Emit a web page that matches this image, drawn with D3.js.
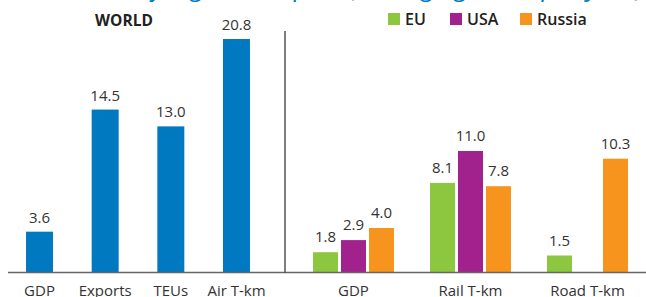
<!DOCTYPE html>
<html>
<head>
<meta charset="utf-8">
<script src="https://cdn.jsdelivr.net/npm/d3@7"></script>
<style>
  html, body { margin: 0; padding: 0; background: #fff; }
  svg { display: block; font-family: "Open Sans", sans-serif; }
  .val { font-size: 15px; fill: #333; text-anchor: middle; }
  .cat { font-size: 15px; fill: #333; text-anchor: middle; }
</style>
</head>
<body>
<div id="chart"></div>
<script>
// world growth (left panel)
const worldCats = ["GDP", "Exports", "TEUs", "Air T-km"];
const worldVals = [3.6, 14.5, 13.0, 20.8];

// regional growth (right panel)
const regionCats = ["GDP", "Rail T-km", "Road T-km"];
const regions = ["EU", "USA", "Russia"];
const euVals = [1.8, 8.1, 1.5];
const usaVals = [2.9, 11.0, null];
const russiaVals = [4.0, 7.8, 10.3];

const colors = ["#8dc63f", "#a2228d", "#f7941d"];
const blue = "#0079c1";

const W = 646, H = 297;
const base = 272;

const svg = d3.select("#chart").append("svg")
    .attr("width", W)
    .attr("height", H);

// title sits above the frame, only its descenders show
svg.append("text")
    .attr("x", 644)
    .attr("y", -4)
    .attr("text-anchor", "end")
    .attr("font-size", 26)
    .attr("font-style", "italic")
    .attr("fill", blue)
    .text("Annual growth of GDP, trade and freight transport (average growth per year)");

// ---- left panel
const x = d3.scaleBand()
    .domain(worldCats)
    .range([6.7, 269.3])
    .paddingInner(0.589)
    .paddingOuter(0.2945);

const y = d3.scaleLinear()
    .domain([0, 20.8])
    .range([base, 39]);

const left = svg.append("g");

left.selectAll("rect")
    .data(worldCats)
    .enter()
    .append("rect")
    .attr("x", d => x(d))
    .attr("y", (d, i) => y(worldVals[i]))
    .attr("width", x.bandwidth())
    .attr("height", (d, i) => y(0) - y(worldVals[i]))
    .attr("fill", blue);

left.selectAll(".val")
    .data(worldCats)
    .enter()
    .append("text")
    .attr("class", "val")
    .attr("x", d => x(d) + x.bandwidth() / 2)
    .attr("y", (d, i) => y(worldVals[i]) - 9)
    .text((d, i) => worldVals[i].toFixed(1));

left.selectAll(".cat")
    .data(worldCats)
    .enter()
    .append("text")
    .attr("class", "cat")
    .attr("x", d => x(d) + x.bandwidth() / 2)
    .attr("y", 296)
    .text(d => d);

svg.append("text")
    .attr("x", 124)
    .attr("y", 26)
    .attr("text-anchor", "middle")
    .attr("font-size", 15.5)
    .attr("font-weight", 700)
    .attr("fill", "#222")
    .text("WORLD");

// ---- right panel
const x0 = d3.scaleBand()
    .domain(regionCats)
    .range([295, 646])
    .paddingInner(0.3077)
    .paddingOuter(0.15385);

const x1 = d3.scaleBand()
    .domain(regions)
    .range([0, x0.bandwidth()])
    .paddingInner(0.107)
    .paddingOuter(0);

const y2 = d3.scaleLinear()
    .domain([0, 11])
    .range([base, 151]);

const color = d3.scaleOrdinal().domain(regions).range(colors);

const table = regionCats.map((c, i) => ({
    cat: c,
    vals: [
        { key: "EU", v: euVals[i] },
        { key: "USA", v: usaVals[i] },
        { key: "Russia", v: russiaVals[i] }
    ].filter(e => e.v !== null)
}));

const groups = svg.append("g")
    .selectAll("g")
    .data(table)
    .enter()
    .append("g")
    .attr("transform", d => `translate(${x0(d.cat)},0)`);

groups.selectAll("rect")
    .data(d => d.vals)
    .enter()
    .append("rect")
    .attr("x", d => x1(d.key))
    .attr("y", d => y2(d.v))
    .attr("width", x1.bandwidth())
    .attr("height", d => y2(0) - y2(d.v))
    .attr("fill", d => color(d.key));

groups.selectAll(".val")
    .data(d => d.vals)
    .enter()
    .append("text")
    .attr("class", "val")
    .attr("x", d => x1(d.key) + x1.bandwidth() / 2)
    .attr("y", d => y2(d.v) - 10)
    .text(d => d.v.toFixed(1));

groups.append("text")
    .attr("class", "cat")
    .attr("x", x0.bandwidth() / 2)
    .attr("y", 296)
    .text(d => d.cat);

// legend
const legendX = [388, 450, 520];
const legend = svg.append("g")
    .selectAll("g")
    .data(regions)
    .enter()
    .append("g")
    .attr("transform", (d, i) => `translate(${legendX[i]},13)`);

legend.append("rect")
    .attr("width", 12)
    .attr("height", 12)
    .attr("fill", d => color(d));

legend.append("text")
    .attr("x", 17)
    .attr("y", 12)
    .attr("font-size", 16)
    .attr("font-weight", 600)
    .attr("fill", "#222")
    .text(d => d);

// baseline and divider
svg.append("line")
    .attr("x1", 8).attr("x2", W)
    .attr("y1", base + 0.5).attr("y2", base + 0.5)
    .attr("stroke", "#666")
    .attr("stroke-width", 1.5);

svg.append("line")
    .attr("x1", 285).attr("x2", 285)
    .attr("y1", 31).attr("y2", base + 1)
    .attr("stroke", "#555")
    .attr("stroke-width", 1.5);
</script>
</body>
</html>
